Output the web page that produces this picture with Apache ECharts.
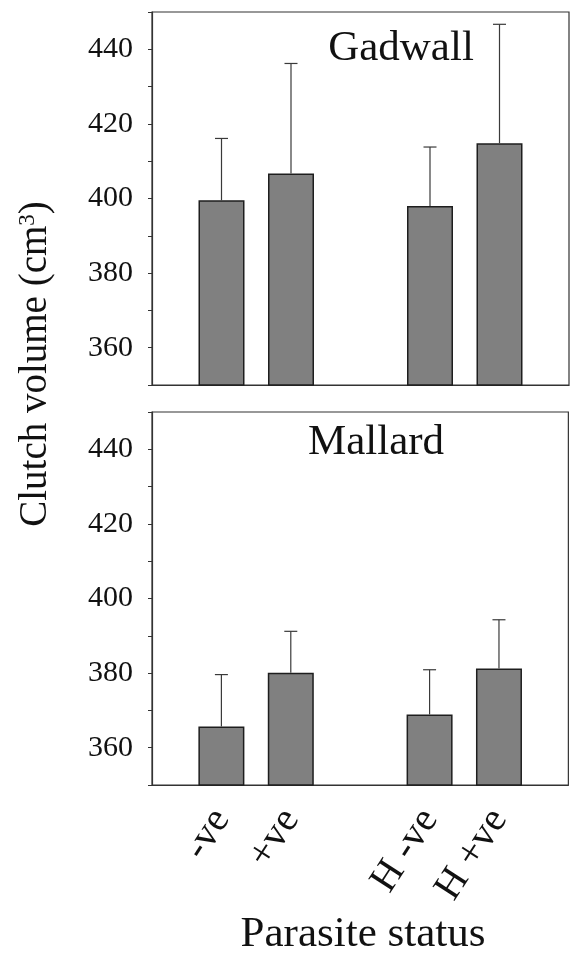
<!DOCTYPE html>
<html>
<head>
<meta charset="utf-8">
<script src="https://cdn.jsdelivr.net/npm/echarts@6/dist/echarts.min.js"></script>
<style>
  html, body { margin: 0; padding: 0; background: #fff; }
  #chart { width: 570px; height: 956px; }
</style>
</head>
<body>
<div id="chart"></div>
<script>
// categories (blank slots keep the gap between the two pairs)
const categories = ["", "-ve", "+ve", "", "H -ve", "H +ve", ""];
const panels = ["Gadwall", "Mallard"];

// means and upper error limits
const gadwallMean = [null, 399.5, 406.7, null, 398.0, 414.8, null];
const gadwallUpper = [null, 416.1, 436.2, null, 413.8, 446.7, null];
const mallardMean = [null, 365.7, 380.1, null, 368.9, 381.2, null];
const mallardUpper = [null, 379.6, 391.2, null, 380.9, 394.3, null];

const yTicks = [360, 380, 400, 420, 440];

const serif = "Liberation Serif";
const barFill = "#808080";

const errorData = (mean, upper) =>
  mean.map((m, i) => (m == null ? null : [i, m, upper[i]])).filter(d => d);

const renderError = (params, api) => {
  const x = api.value(0);
  const lo = api.coord([x, api.value(1)]);
  const hi = api.coord([x, api.value(2)]);
  const half = 6.5;
  const style = { stroke: "#3a3a3a", lineWidth: 1.2 };
  return {
    type: "group",
    children: [
      { type: "line", shape: { x1: lo[0], y1: lo[1], x2: hi[0], y2: hi[1] }, style },
      { type: "line", shape: { x1: hi[0] - half, y1: hi[1], x2: hi[0] + half, y2: hi[1] }, style }
    ]
  };
};

const yAxisFor = gridIndex => ({
  type: "value",
  gridIndex,
  min: 350,
  max: 450,
  interval: 10,
  splitLine: { show: false },
  axisLine: { show: true, lineStyle: { color: "#333", width: 1.2 } },
  axisTick: { show: true, length: 4, lineStyle: { color: "#333" } },
  axisLabel: {
    margin: 19,
    fontFamily: serif,
    fontSize: 30,
    color: "#111",
    formatter: v => (yTicks.indexOf(v) >= 0 ? String(v) : "")
  }
});

const xAxisFor = (gridIndex, showLabels) => ({
  type: "category",
  gridIndex,
  data: categories,
  boundaryGap: false,
  axisLine: { show: true, lineStyle: { color: "#333", width: 1.2 } },
  axisTick: { show: false },
  axisLabel: {
    show: showLabels,
    interval: 0,
    rotate: 57,
    margin: 28,
    fontFamily: serif,
    fontSize: 40,
    color: "#111"
  }
});

const barSeries = (idx, data) => ({
  type: "bar",
  xAxisIndex: idx,
  yAxisIndex: idx,
  data,
  barWidth: 46,
  itemStyle: { color: barFill, borderColor: "#1e1e1e", borderWidth: 1.5 },
  z: 2
});

const errorSeries = (idx, mean, upper) => ({
  type: "custom",
  xAxisIndex: idx,
  yAxisIndex: idx,
  data: errorData(mean, upper),
  renderItem: renderError,
  z: 3
});

const titleStyle = { fontFamily: serif, fontSize: 43, fontWeight: "normal", color: "#111" };

const option = {
  animation: false,
  backgroundColor: "#fff",
  title: [
    { text: panels[0], left: 396, top: 22, textAlign: "center", textStyle: titleStyle },
    { text: panels[1], left: 371, top: 416, textAlign: "center", textStyle: titleStyle },
    { text: "Parasite status", left: 358, top: 908, textAlign: "center", textStyle: titleStyle }
  ],
  graphic: [
    {
      type: "text",
      x: 36,
      y: 364,
      rotation: Math.PI / 2,
      style: {
        text: "{a|Clutch volume (cm}{s|3}{a|)}",
        align: "center",
        verticalAlign: "middle",
        rich: {
          a: { fontFamily: serif, fontSize: 39, fill: "#111", verticalAlign: "bottom" },
          s: { fontFamily: serif, fontSize: 23, fill: "#111", verticalAlign: "top" }
        }
      }
    }
  ],
  grid: [
    { left: 152, top: 12, width: 417, height: 373, show: true, borderColor: "#333", borderWidth: 1.2, backgroundColor: "transparent" },
    { left: 152, top: 412, width: 417, height: 373, show: true, borderColor: "#333", borderWidth: 1.2, backgroundColor: "transparent" }
  ],
  xAxis: [xAxisFor(0, false), xAxisFor(1, true)],
  yAxis: [yAxisFor(0), yAxisFor(1)],
  series: [
    barSeries(0, gadwallMean),
    errorSeries(0, gadwallMean, gadwallUpper),
    barSeries(1, mallardMean),
    errorSeries(1, mallardMean, mallardUpper)
  ]
};

const chart = echarts.init(document.getElementById("chart"));
chart.setOption(option);
</script>
</body>
</html>
